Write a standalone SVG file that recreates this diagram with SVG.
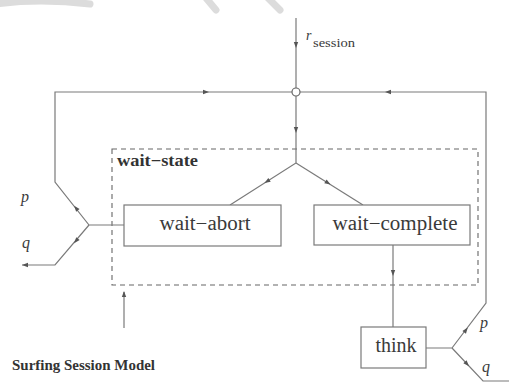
<svg xmlns="http://www.w3.org/2000/svg" width="509" height="387" viewBox="0 0 509 387">
<style>
.ln{fill:none;stroke:#7a7a7a;stroke-width:1.2}
.bx{fill:#fff;stroke:#7a7a7a;stroke-width:1.2}
.ds{fill:none;stroke:#666;stroke-width:1.1;stroke-dasharray:5,4}
.ah{fill:#555}
.t{font-family:"Liberation Serif","Times New Roman",serif;fill:#3a3a3a}
.it{font-family:"Liberation Serif","Times New Roman",serif;font-style:italic;fill:#3a3a3a}
.b{font-family:"Liberation Serif","Times New Roman",serif;font-weight:bold;fill:#333}
.wm{fill:none;stroke:#dcdcdc;stroke-width:7;stroke-linecap:round}
</style>
<defs>
<path id="ah" d="M3,0 L-3,-2.2 L-3,2.2 z"/>
</defs>
<rect width="509" height="387" fill="#fff"/>
<g id="watermark">
<path class="wm" d="M-5,4 Q40,-2 90,4"/>
<path class="wm" d="M206,-2 L216,10"/>
<path class="wm" d="M268,-2 L280,10"/>
</g>
<g id="wait-state">
<rect class="ds" x="112" y="149" width="366" height="136"/>
<text class="b" x="117" y="166" font-size="16" textLength="81" lengthAdjust="spacingAndGlyphs">wait−state</text>
</g>
<g id="connectors">
<path class="ln" d="M296,18 L296,88"/>
<path class="ln" d="M292,92 L55,92 L55,182 L89,225 L124,225"/>
<path class="ln" d="M89,225 L55,265 L22,265"/>
<path class="ln" d="M300,92 L486,92 L486,303 L452,348 L426,348"/>
<path class="ln" d="M452,348 L483,381 L509,381"/>
<path class="ln" d="M296,96 L296,163 L230,205"/>
<path class="ln" d="M296,163 L363,205"/>
<path class="ln" d="M393,245 L393,327"/>
<path class="ln" d="M124,328 L124,292"/>
<g class="ah">
<use href="#ah" transform="translate(296,45) rotate(90)"/>
<use href="#ah" transform="translate(206,92)"/>
<use href="#ah" transform="translate(388,92) rotate(180)"/>
<use href="#ah" transform="translate(296,130) rotate(90)"/>
<use href="#ah" transform="translate(267,181.5) rotate(147.5)"/>
<use href="#ah" transform="translate(328,183) rotate(32)"/>
<use href="#ah" transform="translate(76,208) rotate(-128)"/>
<use href="#ah" transform="translate(76,241) rotate(130)"/>
<use href="#ah" transform="translate(25,265) rotate(180)"/>
<use href="#ah" transform="translate(393,273) rotate(90)"/>
<use href="#ah" transform="translate(466,330) rotate(-53)"/>
<use href="#ah" transform="translate(467,364) rotate(47)"/>
<use href="#ah" transform="translate(124,294) rotate(-90)"/>
</g>
<circle cx="296" cy="92" r="4" fill="#fff" stroke="#666" stroke-width="1.2"/>
</g>
<g id="wait-abort">
<rect class="bx" x="124" y="205" width="157" height="41"/>
<text class="t" x="205" y="230" font-size="20" text-anchor="middle" textLength="91" lengthAdjust="spacingAndGlyphs">wait−abort</text>
</g>
<g id="wait-complete">
<rect class="bx" x="314" y="205" width="156" height="40"/>
<text class="t" x="395" y="230" font-size="20" text-anchor="middle" textLength="125" lengthAdjust="spacingAndGlyphs">wait−complete</text>
</g>
<g id="think">
<rect class="bx" x="361" y="327" width="65" height="41"/>
<text class="t" x="396" y="352" font-size="20" text-anchor="middle">think</text>
</g>
<g id="labels">
<text class="it" x="306" y="40" font-size="14">r</text>
<text class="t" x="313" y="47" font-size="12" textLength="42" lengthAdjust="spacingAndGlyphs">session</text>
<text class="it" x="21" y="202" font-size="16">p</text>
<text class="it" x="22" y="248" font-size="16">q</text>
<text class="it" x="480" y="328" font-size="16">p</text>
<text class="it" x="482" y="372" font-size="16">q</text>
<text class="b" x="12" y="370" font-size="15" textLength="143" lengthAdjust="spacingAndGlyphs">Surfing Session Model</text>
</g>
</svg>
